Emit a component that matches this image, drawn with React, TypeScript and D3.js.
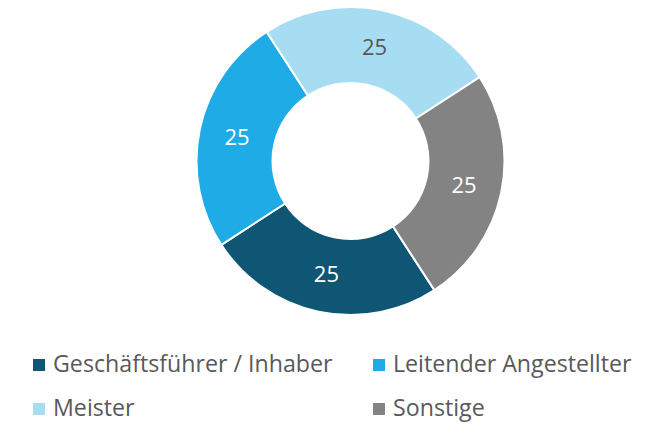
import React from 'react';
import * as d3 from 'd3';

// chart data
const categories = ['Geschäftsführer / Inhaber', 'Leitender Angestellter', 'Meister', 'Sonstige'];
const values = [25, 25, 25, 25];
const colors = ['#0F5674', '#1FABE6', '#A6DDF3', '#838383'];
const labelColors = ['#FFFFFF', '#FFFFFF', '#595959', '#FFFFFF'];

const width = 658;
const height = 425;

export default function App() {
  // donut geometry
  const cx = 350.5;
  const cy = 161;
  const outerR = 154;
  const innerR = 78;
  const start = (147 * Math.PI) / 180;

  const pie = d3
    .pie<number>()
    .sort(null)
    .startAngle(start)
    .endAngle(start + 2 * Math.PI);
  const arcs = pie(values);
  const arc = d3.arc<d3.PieArcDatum<number>>().innerRadius(innerR).outerRadius(outerR);

  // legend layout: two columns, two rows
  const legendX = [33, 373];
  const legendY = [372, 416];

  return (
    <svg
      width={width}
      height={height}
      style={{ position: 'absolute', left: 0, top: 0, background: '#fff' }}
      fontFamily="'Open Sans', sans-serif"
    >
      <g transform={`translate(${cx}, ${cy})`}>
        {arcs.map((a, i) => (
          <path key={categories[i]} d={arc(a) || ''} fill={colors[i]} stroke="#fff" strokeWidth={2} />
        ))}
        {arcs.map((a, i) => {
          const [x, y] = arc.centroid(a);
          return (
            <text
              key={'l' + i}
              x={x}
              y={y}
              dy="0.36em"
              textAnchor="middle"
              fontSize={22}
              fill={labelColors[i]}
            >
              {values[i]}
            </text>
          );
        })}
      </g>
      <g>
        {categories.map((c, i) => {
          const x = legendX[i % 2];
          const y = legendY[Math.floor(i / 2)];
          return (
            <g key={'lg' + i}>
              <rect x={x} y={y - 13} width={12} height={12} fill={colors[i]} />
              <text x={x + 20} y={y} fontSize={23.2} fill="#595959">
                {c}
              </text>
            </g>
          );
        })}
      </g>
    </svg>
  );
}
